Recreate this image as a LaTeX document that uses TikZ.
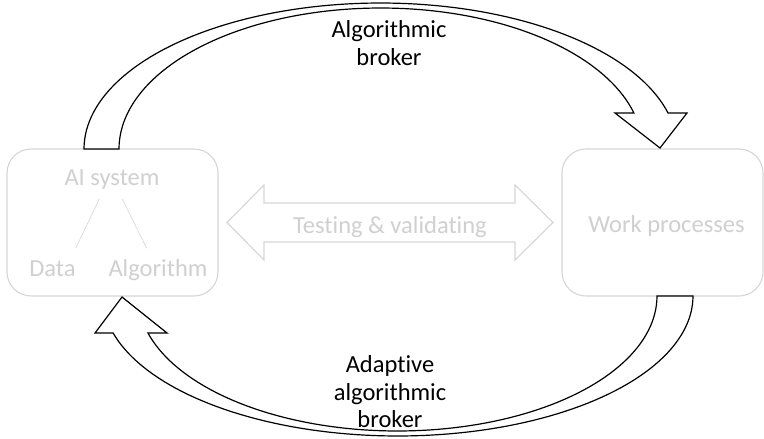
\documentclass[tikz,border=0pt]{standalone}
\usepackage{fontspec}
\setmainfont{Carlito}[RawFeature={-liga;-dlig;-clig}]
\definecolor{paleline}{RGB}{214,214,214}
\definecolor{paletext}{RGB}{208,208,208}

\begin{document}
\begin{tikzpicture}[x=1pt,y=-1pt,
  lbl/.style={font=\fontsize{24.5}{28}\selectfont, inner sep=0pt, anchor=base},
  paletxt/.style={lbl, text=paletext},
  darktxt/.style={lbl, text=black},
  panel/.style={draw=paleline, line width=1.1pt, rounded corners=24pt,
                inner sep=0pt, minimum height=147pt},
  bigarrow/.style={draw=black, fill=white, line width=1.2pt, line join=miter},
  twoway/.style={draw=paleline, line width=1.1pt, line join=miter},
  branch/.style={draw=paleline, line width=0.6pt}]
\useasboundingbox[fill=white] (0,0) rectangle (764,439);

% the two panels
\node[panel, minimum width=211pt] (aibox) at (112.5,222.5) {};
\node[panel, minimum width=201pt] (workbox) at (662.5,222.5) {};

% contents of the AI system panel
\node[paletxt] (ais) at (112,185) {AI system};
\node[paletxt] (data) at (52.5,276) {Data};
\node[paletxt] (algo) at (158,276) {Algorithm};
\coordinate (ais-l) at (99.3,199);
\coordinate (ais-r) at (122.3,199);
\coordinate (data-t) at (75.7,248.3);
\coordinate (algo-t) at (146.7,248.3);
\draw[branch] (ais-l) -- (data-t);
\draw[branch] (ais-r) -- (algo-t);

\node[paletxt] (work) at (666.5,232) {Work processes};

% two-headed arrow between the panels
\draw[twoway] (227,222.5) -- (264,185) -- (264,203) -- (515,203) -- (515,185)
  -- (553,222.5) -- (515,260) -- (515,242) -- (264,242) -- (264,260) -- cycle;
\node[paletxt] (test) at (390,233) {Testing \& validating};

% curved arrow over the top, from the AI system to the work processes
\coordinate (t-head-r) at (687,113);
\coordinate (t-tip) at (660,148);
\coordinate (t-head-l) at (615,113);
\draw[bigarrow]
  plot[domain=180:14.27, samples=90] ({380.6+296.6*cos(\x)}, {149-146*sin(\x)})
  -- (t-head-r) -- (t-tip) -- (t-head-l)
  -- plot[domain=14.79:180, samples=90] ({380.8+261.8*cos(\x)}, {149-141*sin(\x)})
  -- cycle;
\node[darktxt] (top1) at (389,37) {Algorithmic};
\node[darktxt] (top2) at (389,65) {broker};

% curved arrow under the bottom, from the work processes back
\coordinate (b-head-l) at (95,333);
\coordinate (b-tip) at (122,297);
\coordinate (b-head-r) at (167,333);
\draw[bigarrow]
  plot[domain=0:164.68, samples=90] ({397.8+295.2*cos(\x)}, {296+140*sin(\x)})
  -- (b-head-l) -- (b-tip) -- (b-head-r)
  -- plot[domain=164.1:0, samples=90] ({397.5+259.5*cos(\x)}, {296+135*sin(\x)})
  -- cycle;
\node[darktxt] (bot1) at (390,372) {Adaptive};
\node[darktxt] (bot2) at (390,400) {algorithmic};
\node[darktxt] (bot3) at (390,427.5) {broker};
\end{tikzpicture}
\end{document}
